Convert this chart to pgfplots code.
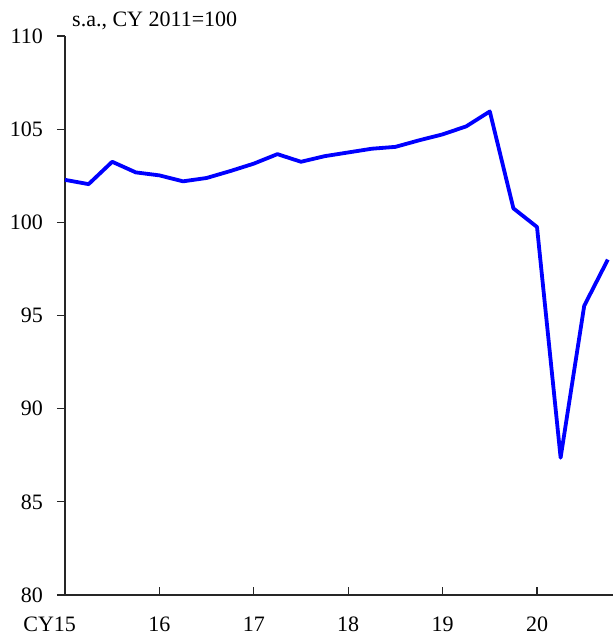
\documentclass[border=0pt]{standalone}
\usepackage{fontspec}
\setmainfont{Liberation Serif}
\usepackage{pgfplots}
\pgfplotsset{compat=1.18}

\pgfplotstableread{
q val
0 102.28
1 102.05
2 103.25
3 102.68
4 102.52
5 102.2
6 102.38
7 102.75
8 103.15
9 103.66
10 103.25
11 103.55
12 103.75
13 103.95
14 104.05
15 104.4
16 104.72
17 105.15
18 105.95
19 100.75
20 99.75
21 87.37
22 95.52
23 98.0
}\cpidata

\begin{document}
\begin{tikzpicture}
\begin{axis}[
scale only axis,
width=548pt,
height=559pt,
xmin=0, xmax=23.22,
ymin=80, ymax=110,
axis x line*=bottom,
axis y line*=left,
axis line style={line width=1.3pt, black!85, -},
xtick={0,4,8,12,16,20},
xticklabels={\llap{CY}15,16,17,18,19,20},
ytick={80,85,90,95,100,105,110},
tick align=outside,
major tick length=8pt,
every tick/.style={black!85, line width=1.3pt},
xtick style={yshift=8pt},
tick label style={font=\fontsize{22}{26}\selectfont, inner sep=0pt},
xticklabel style={anchor=north, yshift=-22pt+8pt},
yticklabel style={anchor=east, xshift=-14pt},
/pgf/number format/assume math mode=true,
clip=false,
]
\addplot[blue, line width=3.8pt, line join=round] table[x=q, y=val] {\cpidata};
\node[anchor=base west, font=\fontsize{22}{26}\selectfont, inner sep=0pt]
  at (rel axis cs:0,1) [xshift=7pt, yshift=9pt] {s.a., CY 2011=100};
\coordinate (bl) at (rel axis cs:0,0);
\coordinate (tr) at (rel axis cs:1,1);
\end{axis}
\pgfresetboundingbox
\path ([shift={(-65pt,-37pt)}]bl) rectangle ([shift={(0pt,36pt)}]tr);
\end{tikzpicture}
\end{document}
